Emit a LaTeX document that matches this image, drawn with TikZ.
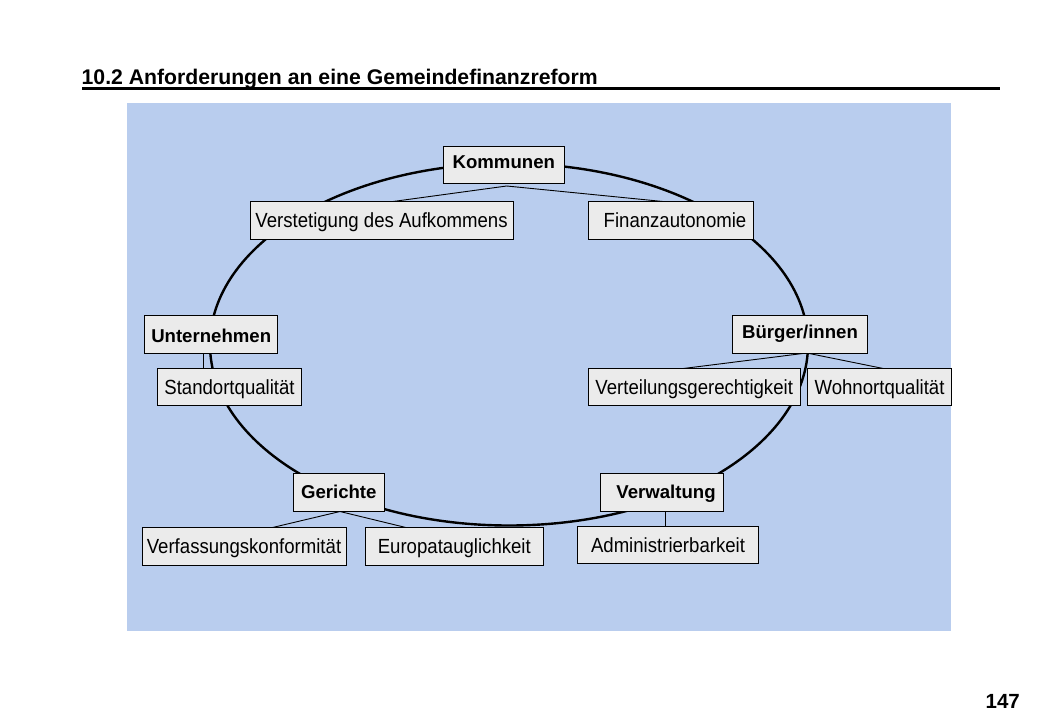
\documentclass[tikz,border=0pt]{standalone}
\usepackage{fontspec}
\usepackage{graphicx}
\setmainfont{Liberation Sans}
\usetikzlibrary{calc}
\definecolor{bgblue}{RGB}{185,205,238}
\definecolor{boxgray}{RGB}{235,235,235}
\newcommand{\vst}[1]{\scalebox{1}[1.1]{#1}}
\tikzset{
  box/.style={draw=black, line width=0.8pt, fill=boxgray, inner sep=0pt,
    minimum height=37.5pt, text height=14.6pt, text depth=0pt,
    font=\fontsize{18.6}{20}\selectfont},
  bbox/.style={box, text height=13.3pt, text depth=0pt,
    font=\fontsize{18.6}{20}\selectfont\bfseries},
  conn/.style={draw=black, line width=0.9pt},
  ring/.style={draw=black, line width=2.4pt}
}
\begin{document}
\begin{tikzpicture}[x=1pt,y=-1pt]
\useasboundingbox (0,0) rectangle (1040,720);
% background
\fill[white] (0,0) rectangle (1040,720);
\fill[bgblue] (127,103) rectangle (951,631);
% title
\node[anchor=base west, inner sep=0pt, font=\fontsize{21.2}{24}\selectfont\bfseries] (title) at (81.5,84) {10.2 Anforderungen an eine Gemeindefinanzreform};
\draw[line width=3pt] (82,88.7) -- (1000,88.7);
\node[anchor=base east, inner sep=0pt, font=\fontsize{20.5}{24}\selectfont\bfseries] (page) at (1020,708.3) {147};
% ring
\draw[ring] (509,344.5) ellipse [x radius=299pt, y radius=181pt];
% connector coordinates
\coordinate (komA) at (506.7,186);
\coordinate (verstT) at (393,201.5);
\coordinate (finT) at (663,201.5);
\coordinate (untB) at (203,353);
\coordinate (standT) at (203,368.5);
\coordinate (burgA) at (806.7,353);
\coordinate (vertT) at (683.3,368.5);
\coordinate (wohnT) at (883.3,368.5);
\coordinate (gerA) at (340,511.5);
\coordinate (verfT) at (271.7,527.7);
\coordinate (euroT) at (406.7,527.7);
\coordinate (verwB) at (665,511.5);
\coordinate (admT) at (665,526);
\draw[conn] (verstT) -- (komA) -- (finT);
\draw[conn] (untB) -- (standT);
\draw[conn] (vertT) -- (burgA) -- (wohnT);
\draw[conn] (verfT) -- (gerA) -- (euroT);
\draw[conn] (verwB) -- (admT);
% boxes
\node[bbox, minimum width=121pt] (kom) at (503.8,164.7) {\raisebox{3pt}{Kommunen}};
\node[box, minimum width=263pt] (verst) at (381.5,220.5) {\vst{Verstetigung des Aufkommens}};
\node[box, minimum width=165pt] (fin) at (670.5,220.5) {\hspace*{9pt}\vst{Finanzautonomie}};
\node[bbox, minimum width=133pt] (unt) at (211.2,334.3) {\raisebox{-1.5pt}{Unternehmen}};
\node[box, minimum width=144pt] (stand) at (229.5,386.8) {\vst{Standortqualität}};
\node[bbox, minimum width=135pt] (burg) at (800,334.2) {\raisebox{2.5pt}{Bürger/innen}};
\node[box, minimum width=212pt] (vert) at (694.2,386.8) {\vst{Verteilungsgerechtigkeit}};
\node[box, minimum width=144pt] (wohn) at (879.5,386.8) {\vst{Wohnortqualität}};
\node[bbox, minimum width=91pt] (ger) at (338.8,492.5) {\raisebox{1pt}{Gerichte}};
\node[bbox, minimum width=123pt] (verw) at (662,492.5) {\hspace*{8pt}\raisebox{0.5pt}{Verwaltung}};
\node[box, minimum width=204pt] (verf) at (244,546.5) {\vst{Verfassungskonformität}};
\node[box, minimum width=178pt] (euro) at (454.3,546.5) {\vst{Europatauglichkeit}};
\node[box, minimum width=181pt] (adm) at (668,545) {\vst{Administrierbarkeit}};
\end{tikzpicture}
\end{document}
